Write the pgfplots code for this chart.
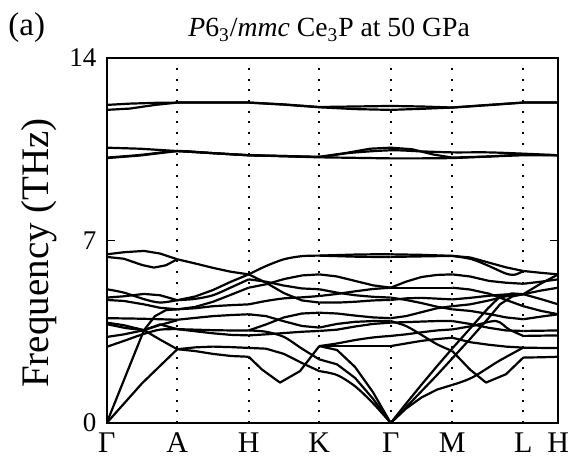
\documentclass[border=0pt]{standalone}
\usepackage{pgfplots}
\pgfplotsset{compat=1.18}
\usepackage{fontspec}
\setmainfont{Liberation Serif}

% high-symmetry points along the path (path coordinate)
% Gamma=106.7, A=177.3, H=248.7, K=319.3, Gamma=390.7, M=452.3, L=523.3, H=558.3

\begin{document}
\begin{tikzpicture}[x=1pt,y=1pt]
\useasboundingbox (-53.35,-20.5) rectangle (236.15,211.5);
\begin{axis}[
  at={(0,0)}, anchor=south west,
  scale only axis, width=225.8pt, height=182.5pt,
  xmin=106.7, xmax=558.3, ymin=0, ymax=14,
  xtick={106.7,177.3,248.7,319.3,390.7,452.3,523.3,558.3},
  xticklabels={Γ,A,H,K,Γ,M,L,H},
  ytick={0,7,14},
  ytick pos=both,
  tick align=inside,
  major tick length=4pt,
  xtick style={draw=none},
  ytick style={black, line width=0.8pt},
  xmajorgrids,
  major grid style={black, line width=1pt, dash pattern=on 1pt off 4.35pt},
  axis line style={black, line width=0.9pt},
  /pgf/number format/assume math mode=true,
  xticklabel style={font=\fontsize{15}{18}\selectfont, anchor=north, inner sep=0pt, yshift=-4.8pt},
  yticklabel style={font=\fontsize{13.5}{16}\selectfont, anchor=east, inner sep=0pt, xshift=-5pt},
  ylabel={Frequency (THz)},
  ylabel style={font=\fontsize{19.5}{22}\selectfont, at={(axis description cs:-0.150,0.466)}, anchor=center},
  cycle list={{black, solid, mark=none, smooth}},
  every axis plot/.append style={line width=1.1pt, line join=round},
]
% ---- P-dominated optical branches (full path) ----
\addplot coordinates {(106.7,12.20)(130,12.25)(155,12.28)(177.3,12.29)(213,12.29)(248.7,12.29)(284,12.22)(319.3,12.12)(355,12.14)(390.7,12.16)(421.5,12.14)(452.3,12.10)(488,12.20)(523.3,12.29)(558.3,12.29)};
\addplot coordinates {(106.7,12.01)(130,12.06)(155,12.20)(177.3,12.29)(213,12.29)(248.7,12.29)(284,12.21)(319.3,12.11)(355,12.04)(390.7,12.01)(421.5,12.05)(452.3,12.10)(488,12.19)(523.3,12.29)(558.3,12.29)};
\addplot coordinates {(106.7,10.56)(140,10.52)(177.3,10.43)(213,10.35)(248.7,10.27)(284,10.24)(319.3,10.21)(345,10.35)(370,10.52)(390.7,10.56)(412,10.50)(433,10.30)(452.3,10.18)(488,10.22)(523.3,10.27)(558.3,10.27)};
\addplot coordinates {(106.7,10.18)(140,10.28)(177.3,10.43)(213,10.35)(248.7,10.27)(284,10.24)(319.3,10.21)(350,10.36)(390.7,10.46)(420,10.42)(452.3,10.38)(488,10.38)(523.3,10.33)(558.3,10.27)};
\addplot coordinates {(106.7,10.16)(140,10.26)(177.3,10.43)(213,10.35)(248.7,10.27)(284,10.23)(319.3,10.19)(355,10.17)(390.7,10.15)(420,10.15)(452.3,10.16)(488,10.22)(523.3,10.30)(558.3,10.27)};

% ---- Gamma - A ----
\addplot coordinates {(106.7,6.47)(124,6.55)(144,6.60)(160,6.50)(177.3,6.28)};
\addplot coordinates {(106.7,6.37)(124,6.30)(142,6.06)(154,5.96)(166,6.05)(177.3,6.28)};
\addplot coordinates {(106.7,5.13)(124,5.00)(144,4.75)(160,4.62)(177.3,4.71)};
\addplot coordinates {(106.7,4.81)(124,4.86)(144,4.95)(160,4.90)(177.3,4.71)};
\addplot coordinates {(106.7,4.72)(124,4.68)(144,4.55)(160,4.42)(177.3,4.36)};
\addplot coordinates {(106.7,0)(125,1.75)(144,3.56)(155,4.10)(166,4.33)(177.3,4.36)};
\addplot coordinates {(106.7,4.02)(140,4.00)(177.3,3.96)};
\addplot coordinates {(106.7,3.85)(124,3.75)(144,3.56)(160,3.20)(177.3,2.83)};
\addplot coordinates {(106.7,3.79)(126,3.64)(144,3.56)(160,3.78)(177.3,3.60)};
\addplot coordinates {(106.7,3.30)(124,3.40)(144,3.56)(160,3.76)(177.3,3.94)};
\addplot coordinates {(106.7,2.92)(124,3.15)(144,3.42)(160,3.58)(177.3,3.60)};
\addplot coordinates {(106.7,0)(142,1.52)(177.3,2.83)};

% ---- A - H ----
\addplot coordinates {(177.3,6.28)(195,6.12)(213,5.95)(231,5.80)(248.7,5.70)};
\addplot coordinates {(177.3,4.71)(195,4.85)(213,5.10)(231,5.42)(248.7,5.70)};
\addplot coordinates {(177.3,4.71)(195,4.76)(213,4.90)(231,5.20)(248.7,5.51)};
\addplot coordinates {(177.3,4.36)(195,4.45)(213,4.65)(231,4.92)(248.7,5.19)};
\addplot coordinates {(177.3,4.36)(195,4.40)(213,4.48)(231,4.52)(248.7,4.55)};
\addplot coordinates {(177.3,3.96)(195,4.03)(213,4.10)(231,4.14)(248.7,4.17)};
\addplot coordinates {(177.3,3.60)(195,3.58)(213,3.56)(231,3.55)(248.7,3.55)};
\addplot coordinates {(177.3,3.60)(195,3.52)(213,3.44)(231,3.38)(248.7,3.36)};
\addplot coordinates {(177.3,2.83)(195,2.90)(213,2.93)(231,2.91)(248.7,2.88)};
\addplot coordinates {(177.3,2.83)(195,2.76)(213,2.65)(231,2.57)(248.7,2.54)};

% ---- H - K ----
\addplot coordinates {(248.7,5.70)(266,6.02)(284,6.28)(302,6.40)(319.3,6.42)};
\addplot coordinates {(248.7,5.19)(266,5.32)(284,5.52)(302,5.66)(319.3,5.70)};
\addplot coordinates {(248.7,5.70)(266,5.38)(284,4.98)(302,4.70)(319.3,4.62)};
\addplot coordinates {(248.7,5.51)(266,5.42)(284,5.27)(302,5.16)(319.3,5.13)};
\addplot coordinates {(248.7,4.55)(266,4.68)(284,4.78)(302,4.82)(319.3,4.87)};
\addplot coordinates {(248.7,4.17)(266,4.10)(284,3.90)(302,3.72)(319.3,3.66)};
\addplot coordinates {(248.7,3.55)(266,3.78)(284,4.05)(302,4.20)(319.3,4.23)};
\addplot coordinates {(248.7,3.36)(266,3.40)(284,3.45)(302,3.50)(319.3,3.53)};
\addplot coordinates {(248.7,3.55)(266,3.50)(284,3.30)(302,2.85)(319.3,2.44)};
\addplot coordinates {(248.7,2.54)(262,2.05)(280,1.55)(300,1.99)(319.3,2.95)};
\addplot coordinates {(248.7,2.88)(266,2.85)(284,2.65)(302,2.30)(319.3,1.99)};

% ---- K - Gamma ----
\addplot coordinates {(319.3,6.42)(337,6.44)(355,6.46)(373,6.47)(390.7,6.47)};
\addplot coordinates {(319.3,6.42)(337,6.40)(355,6.38)(373,6.37)(390.7,6.37)};
\addplot coordinates {(319.3,5.70)(337,5.62)(355,5.45)(373,5.28)(390.7,5.19)};
\addplot coordinates {(319.3,5.13)(337,5.00)(355,4.90)(373,4.84)(390.7,4.81)};
\addplot coordinates {(319.3,4.87)(337,4.95)(355,5.05)(373,5.14)(390.7,5.19)};
\addplot coordinates {(319.3,4.62)(337,4.62)(355,4.65)(373,4.70)(390.7,4.72)};
\addplot coordinates {(319.3,4.23)(337,4.20)(355,4.12)(373,4.05)(390.7,4.02)};
\addplot coordinates {(319.3,3.66)(337,3.80)(355,3.88)(373,3.91)(390.7,3.91)};
\addplot coordinates {(319.3,3.53)(337,3.58)(355,3.70)(373,3.80)(390.7,3.85)};
\addplot coordinates {(319.3,2.95)(337,3.05)(355,3.18)(373,3.28)(390.7,3.34)};
\addplot coordinates {(319.3,2.95)(337,2.95)(355,2.95)(373,2.95)(390.7,2.95)};
\addplot coordinates {(319.3,2.95)(337,2.80)(355,2.15)(373,1.18)(390.7,0)};
\addplot coordinates {(319.3,2.44)(337,2.25)(355,1.73)(373,0.93)(390.7,0)};
\addplot coordinates {(319.3,1.99)(337,1.84)(355,1.41)(373,0.76)(390.7,0)};

% ---- Gamma - M ----
\addplot coordinates {(390.7,6.47)(406,6.46)(421.5,6.45)(437,6.43)(452.3,6.41)};
\addplot coordinates {(390.7,6.37)(406,6.38)(421.5,6.39)(437,6.40)(452.3,6.41)};
\addplot coordinates {(390.7,5.19)(406,5.42)(421.5,5.60)(437,5.68)(452.3,5.70)};
\addplot coordinates {(390.7,5.19)(421.5,5.19)(452.3,5.19)};
\addplot coordinates {(390.7,4.81)(406,4.72)(421.5,4.60)(437,4.46)(452.3,4.36)};
\addplot coordinates {(390.7,4.72)(406,4.78)(421.5,4.80)(437,4.77)(452.3,4.74)};
\addplot coordinates {(390.7,4.02)(406,4.10)(421.5,4.25)(437,4.40)(452.3,4.48)};
\addplot coordinates {(390.7,3.91)(406,3.72)(421.5,3.38)(437,3.02)(452.3,2.76)};
\addplot coordinates {(390.7,3.85)(406,3.87)(421.5,3.89)(437,3.91)(452.3,3.91)};
\addplot coordinates {(390.7,3.34)(406,3.40)(421.5,3.48)(437,3.55)(452.3,3.59)};
\addplot coordinates {(390.7,2.95)(406,3.05)(421.5,3.15)(437,3.22)(452.3,3.27)};
\addplot coordinates {(390.7,0)(406,0.60)(421.5,1.22)(437,1.84)(452.3,2.48)};
\addplot coordinates {(390.7,0)(406,0.74)(421.5,1.47)(437,2.18)(452.3,2.86)};
\addplot coordinates {(390.7,0)(406,0.55)(421.5,0.98)(437,1.28)(452.3,1.46)};

% ---- M - L ----
\addplot coordinates {(452.3,6.41)(470,6.35)(489,6.15)(506,5.97)(523.3,5.83)};
\addplot coordinates {(452.3,6.41)(472,6.28)(489,6.02)(506,5.73)(515,5.69)(523.3,5.83)};
\addplot coordinates {(452.3,5.70)(470,5.62)(489,5.45)(506,5.38)(523.3,5.34)};
\addplot coordinates {(452.3,5.19)(470,5.12)(489,4.96)(506,4.72)(523.3,4.48)};
\addplot coordinates {(452.3,4.36)(470,4.30)(489,4.18)(506,4.05)(523.3,3.98)};
\addplot coordinates {(452.3,4.74)(470,4.80)(489,4.88)(506,4.93)(523.3,4.94)};
\addplot coordinates {(452.3,4.48)(470,4.55)(489,4.70)(506,4.86)(523.3,4.94)};
\addplot coordinates {(452.3,2.76)(470,2.05)(486,1.55)(506,1.87)(523.3,2.51)};
\addplot coordinates {(452.3,3.91)(470,3.80)(489,3.65)(506,3.55)(523.3,3.53)};
\addplot coordinates {(452.3,3.59)(472,3.72)(496,3.91)(509,3.59)(523.3,3.34)};
\addplot coordinates {(452.3,3.27)(470,3.10)(489,3.00)(506,2.93)(523.3,2.89)};
\addplot coordinates {(452.3,2.48)(470,3.22)(488,4.00)(500,4.55)(512,4.85)(523.3,4.94)};
\addplot coordinates {(452.3,2.86)(470,3.62)(488,4.40)(500,4.85)(512,4.97)(523.3,4.94)};
\addplot coordinates {(452.3,1.46)(472,1.74)(499,2.38)(523.3,2.89)};

% ---- L - H ----
\addplot coordinates {(523.3,5.83)(541,5.76)(558.3,5.70)};
\addplot coordinates {(523.3,5.34)(541,5.42)(558.3,5.51)};
\addplot coordinates {(523.3,4.94)(541,5.08)(558.3,5.19)};
\addplot coordinates {(523.3,4.94)(541,4.75)(558.3,4.55)};
\addplot coordinates {(523.3,4.48)(541,4.30)(558.3,4.17)};
\addplot coordinates {(523.3,3.98)(541,4.08)(558.3,4.17)};
\addplot coordinates {(523.3,3.53)(541,3.54)(558.3,3.55)};
\addplot coordinates {(523.3,3.34)(541,3.35)(558.3,3.36)};
\addplot coordinates {(523.3,2.89)(541,2.88)(558.3,2.88)};
\addplot coordinates {(523.3,2.51)(541,2.52)(558.3,2.54)};
\addplot coordinates {(523.3,4.94)(541,5.35)(558.3,5.70)};
\end{axis}
\node[anchor=base west, inner sep=0pt, font=\fontsize{16.5}{19}\selectfont] at (-49.35,193.5) {(a)};
\node[anchor=base west, inner sep=0pt, font=\fontsize{13.85}{16}\selectfont] at (40.65,193) {\textit{P}6\textsubscript{3}/\textit{mmc} Ce\textsubscript{3}P at 50 GPa};
\end{tikzpicture}
\end{document}
